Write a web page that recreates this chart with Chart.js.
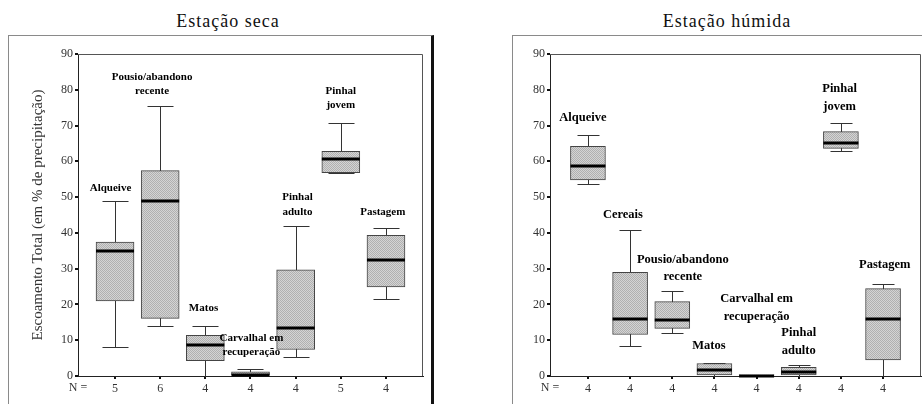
<!DOCTYPE html>
<html lang="pt">
<head>
<meta charset="UTF-8">
<title>Escoamento total por uso do solo</title>
<script src="https://cdn.jsdelivr.net/npm/chart.js"></script>
<style>
  body {
    margin: 0;
    background: #fff;
    width: 922px;
    height: 404px;
    overflow: hidden;
    position: relative;
    font-family: "Liberation Serif", serif;
  }
  .panel-title {
    position: absolute;
    top: 10px;
    line-height: 22px;
    font-size: 18px;
    letter-spacing: 1px;
    color: #111;
    transform: translateX(-50%);
    white-space: nowrap;
  }
  .frame {
    position: absolute;
    top: 35px;
    height: 400px;
    border-top: 1px solid #8a8a8a;
    border-left: 1px solid #8a8a8a;
  }
  canvas { position: absolute; top: 0; }
</style>
</head>
<body>
  <div class="frame" style="left:8px; width:422px; border-right:3px solid #111;"></div>
  <div class="frame" style="left:512px; width:420px;"></div>
  <div class="panel-title" style="left:228px;">Estação seca</div>
  <div class="panel-title" style="left:727px;">Estação húmida</div>
  <canvas id="dry" width="460" height="404" style="left:0;"></canvas>
  <canvas id="wet" width="462" height="404" style="left:460px;"></canvas>

<script>
  // Estação seca
  const dryCats = ['Alqueive', 'Pousio/abandono recente', 'Matos', 'Carvalhal em recuperação', 'Pinhal adulto', 'Pinhal jovem', 'Pastagem'];
  const dryMin = [8.2, 13.9, 0, 0, 5.4, 56.8, 21.6];
  const dryQ1 = [21.0, 16.1, 4.3, 0, 7.4, 56.8, 24.9];
  const dryMed = [34.9, 49.0, 8.8, 0.3, 13.5, 60.6, 32.3];
  const dryQ3 = [37.4, 57.4, 11.4, 1.2, 29.7, 62.8, 39.3];
  const dryMax = [48.8, 75.4, 13.9, 1.9, 41.8, 70.7, 41.4];
  const dryN = [5, 6, 4, 4, 4, 5, 4];

  // Estação húmida
  const wetCats = ['Alqueive', 'Cereais', 'Pousio/abandono recente', 'Matos', 'Carvalhal em recuperação', 'Pinhal adulto', 'Pinhal jovem', 'Pastagem'];
  const wetMin = [53.8, 8.5, 12.0, 0, 0, 0, 63.0, 0];
  const wetQ1 = [54.8, 11.6, 13.3, 0, 0, 0.3, 63.6, 4.5];
  const wetMed = [58.6, 15.9, 15.6, 1.7, 0.1, 1.2, 65.1, 15.9];
  const wetQ3 = [64.2, 29.0, 20.8, 3.5, 0.3, 2.4, 68.3, 24.4];
  const wetMax = [67.3, 40.9, 23.8, 3.5, 0.3, 3.2, 70.7, 25.8];
  const wetN = [4, 4, 4, 4, 4, 4, 4, 4];

  const yTicks = [0, 10, 20, 30, 40, 50, 60, 70, 80, 90];

  // where each category name sits (x in category units, y in % of the first line)
  const dryLabelAt = [[-0.1, 52.4], [0.82, 83.6], [1.96, 18.9], [3.02, 10.6], [4.04, 49.9], [5.0, 79.7], [5.93, 45.7]];
  const wetLabelAt = [[-0.12, 72.2], [0.83, 45.1], [2.25, 32.6], [2.87, 8.4], [4.0, 21.5], [5.0, 12.0], [5.97, 80.2], [7.04, 31.2]];

  Chart.defaults.font.family = '"Liberation Serif", serif';

  function splitName(name) {
    const k = name.lastIndexOf(' ');
    return k < 0 ? [name] : [name.slice(0, k), name.slice(k + 1)];
  }

  function dither() {
    const c = document.createElement('canvas');
    c.width = 2; c.height = 2;
    const g = c.getContext('2d');
    g.fillStyle = '#d4d4d4';
    g.fillRect(0, 0, 2, 2);
    g.fillStyle = '#b0b0b0';
    g.fillRect(0, 0, 1, 1);
    g.fillRect(1, 1, 1, 1);
    return g.createPattern(c, 'repeat');
  }

  // whiskers, medians, plot frame and category names
  function boxExtras(spec) {
    return {
      id: 'boxExtras',
      beforeDatasetsDraw(chart) {
        const { ctx, scales: { x, y } } = chart;
        ctx.save();
        ctx.strokeStyle = '#333';
        ctx.lineWidth = 1;
        spec.min.forEach((lo, i) => {
          const px = Math.round(x.getPixelForValue(i)) + 0.5;
          const yl = Math.round(y.getPixelForValue(lo)) + 0.5;
          const yh = Math.round(y.getPixelForValue(spec.max[i])) + 0.5;
          const hw = spec.capW / 2;
          ctx.beginPath();
          ctx.moveTo(px, yl); ctx.lineTo(px, yh);
          ctx.moveTo(px - hw, yh); ctx.lineTo(px + hw, yh);
          if (lo > 0) { ctx.moveTo(px - hw, yl); ctx.lineTo(px + hw, yl); }
          ctx.stroke();
        });
        ctx.restore();
      },
      afterDatasetsDraw(chart) {
        const { ctx, chartArea: a, scales: { x, y } } = chart;
        ctx.save();
        ctx.strokeStyle = '#000';
        ctx.lineWidth = 3;
        spec.med.forEach((m, i) => {
          const px = x.getPixelForValue(i);
          const py = Math.round(y.getPixelForValue(m));
          ctx.beginPath();
          ctx.moveTo(px - spec.boxW / 2, py);
          ctx.lineTo(px + spec.boxW / 2, py);
          ctx.stroke();
        });
        // top and right edges of the plot
        ctx.strokeStyle = '#555';
        ctx.lineWidth = 1;
        ctx.beginPath();
        ctx.moveTo(a.left, a.top + 0.5);
        ctx.lineTo(a.right - 0.5, a.top + 0.5);
        ctx.lineTo(a.right - 0.5, a.bottom);
        ctx.stroke();
        ctx.restore();
      },
      afterDraw(chart) {
        const { ctx, chartArea: a, scales: { x, y } } = chart;
        ctx.save();
        ctx.fillStyle = '#000';
        ctx.textAlign = 'center';
        ctx.textBaseline = 'middle';
        ctx.font = 'bold ' + spec.labelSize + 'px "Liberation Serif", serif';
        spec.cats.forEach((name, i) => {
          const [lx, ly] = spec.labelAt[i];
          const px = x.getPixelForValue(lx);
          const py = y.getPixelForValue(ly);
          splitName(name).forEach((line, j) => ctx.fillText(line, px, py + j * spec.lineH));
        });
        ctx.fillStyle = '#333';
        ctx.font = '12px "Liberation Serif", serif';
        ctx.fillText('N =', a.left, 388);
        ctx.restore();
      }
    };
  }

  function boxChart(id, spec) {
    return new Chart(document.getElementById(id), {
      type: 'bar',
      data: {
        datasets: [{
          data: spec.q1.map((lo, i) => ({ x: i, y: [lo, spec.q3[i]] })),
          backgroundColor: dither(),
          borderColor: '#444',
          borderWidth: 1,
          borderSkipped: false,
          barThickness: spec.boxW,
          grouped: false
        }]
      },
      options: {
        responsive: false,
        animation: false,
        layout: { padding: { left: 0, top: 54, right: spec.padRight, bottom: 0 } },
        plugins: { legend: { display: false }, tooltip: { enabled: false } },
        scales: {
          x: {
            type: 'linear',
            offset: false,
            min: spec.xMin,
            max: spec.xMax,
            afterBuildTicks: s => { s.ticks = spec.n.map((_, i) => ({ value: i })); },
            afterFit: s => { s.height = 28; },
            ticks: {
              autoSkip: false,
              maxRotation: 0,
              padding: 3,
              color: '#333',
              font: { size: 12 },
              callback: v => spec.n[v]
            },
            grid: { display: true, offset: false, drawOnChartArea: false, tickLength: 3, color: '#111', lineWidth: 2 },
            border: { display: true, color: '#222', width: 1 }
          },
          y: {
            min: 0,
            max: 90,
            afterBuildTicks: s => { s.ticks = yTicks.map(v => ({ value: v })); },
            afterFit: s => { s.width = spec.yW; },
            ticks: {
              padding: 2,
              color: '#333',
              font: { size: 12 }
            },
            grid: { display: true, drawOnChartArea: false, tickLength: 3, color: '#111', lineWidth: 2 },
            border: { display: true, color: '#222', width: 1 },
            title: {
              display: !!spec.yTitle,
              text: spec.yTitle || '',
              color: '#333',
              font: { size: 15 },
              padding: { top: 29, bottom: 0 }
            }
          }
        }
      },
      plugins: [boxExtras(spec)]
    });
  }

  boxChart('dry', {
    cats: dryCats, min: dryMin, q1: dryQ1, med: dryMed, q3: dryQ3, max: dryMax, n: dryN,
    labelAt: dryLabelAt, labelSize: 11, lineH: 14.5,
    xMin: -0.82, xMax: 6.82, yW: 78, padRight: 37, boxW: 38, capW: 26,
    yTitle: 'Escoamento Total (em % de precipitação)'
  });

  boxChart('wet', {
    cats: wetCats, min: wetMin, q1: wetQ1, med: wetMed, q3: wetQ3, max: wetMax, n: wetN,
    labelAt: wetLabelAt, labelSize: 12.5, lineH: 17.5,
    xMin: -0.9, xMax: 7.9, yW: 90, padRight: 1, boxW: 35, capW: 22
  });
</script>
</body>
</html>
